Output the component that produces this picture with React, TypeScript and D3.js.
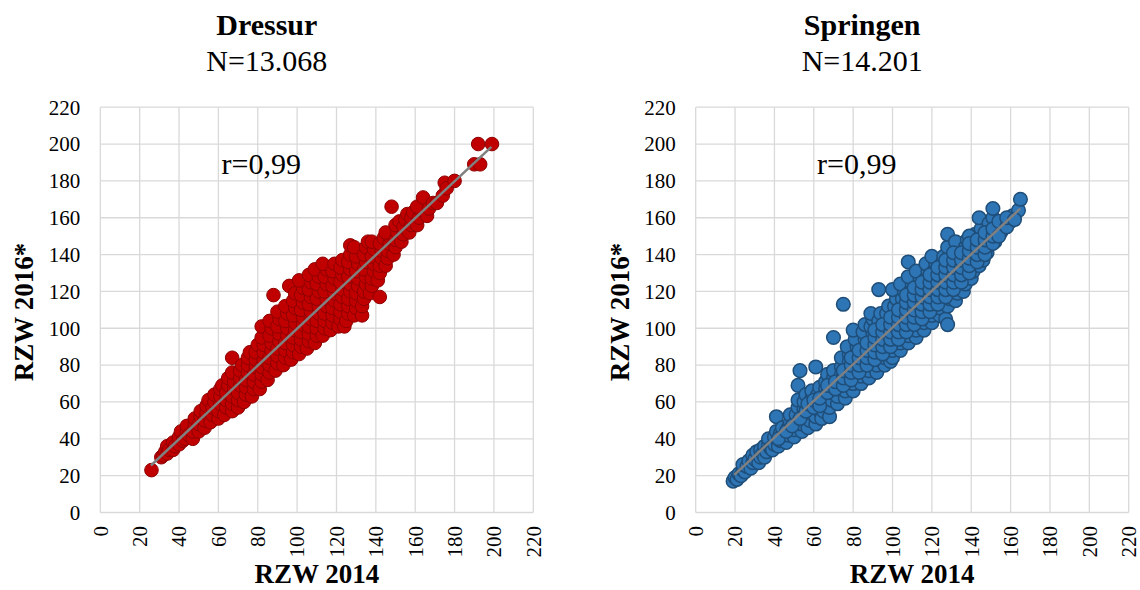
import React from "react";
import * as d3 from "d3";

// RZW 2014 vs. RZW 2016* per discipline (x = 2014, y = 2016*)
const dressurPoints: [number, number][] = [
  [26, 23],
  [31, 30], [32, 31], [33, 33],
  [34, 32], [34, 36], [35, 34],
  [37, 34], [37, 38], [38, 36],
  [40, 37], [40, 41], [41, 44], [42, 39],
  [43, 40], [44, 44], [44, 47], [45, 42],
  [47, 40], [47, 44], [48, 48], [48, 51],
  [50, 44], [50, 48], [51, 52], [51, 55],
  [53, 46], [53, 50], [54, 54], [54, 58], [55, 61],
  [56, 49], [57, 53], [57, 57], [58, 60], [58, 64],
  [60, 51], [60, 55], [61, 59], [61, 63], [61, 67], [62, 69],
  [63, 53], [64, 57], [64, 61], [64, 65], [65, 69], [65, 73],
  [67, 55], [67, 59], [67, 63], [68, 67], [68, 71], [67, 76], [67, 84],
  [70, 57], [70, 61], [70, 65], [71, 69], [71, 73], [71, 77], [72, 80],
  [73, 60], [74, 64], [74, 68], [74, 72], [75, 76], [75, 80], [75, 84], [76, 87],
  [77, 63], [78, 67], [78, 71], [78, 75], [79, 79], [79, 83], [79, 87], [80, 91],
  [81, 67], [82, 71], [82, 75], [82, 79], [83, 83], [83, 87], [83, 91], [82, 95], [82, 101],
  [85, 72], [86, 76], [86, 80], [86, 84], [87, 88], [87, 92], [86, 96], [87, 100], [86, 104],
  [88, 118],
  [89, 77], [90, 81], [90, 85], [90, 89], [91, 93], [91, 97], [90, 101], [91, 105], [90, 109],
  [93, 80], [94, 84], [94, 88], [94, 92], [95, 96], [95, 100], [94, 104], [95, 108], [94, 112], [96, 123],
  [97, 83], [98, 87], [98, 91], [98, 95], [99, 99], [99, 103], [98, 107], [99, 111], [98, 115], [99, 119],
  [101, 86], [102, 90], [102, 94], [102, 98], [103, 102], [103, 106], [102, 110], [103, 114], [102, 118], [103, 122], [101, 126],
  [105, 89], [106, 93], [106, 97], [106, 101], [107, 105], [107, 109], [106, 113], [107, 117], [106, 121], [107, 125], [106, 129],
  [109, 92], [110, 96], [110, 100], [110, 104], [111, 108], [111, 112], [110, 116], [111, 120], [110, 124], [111, 128], [109, 132],
  [113, 96], [114, 100], [114, 104], [114, 108], [115, 112], [115, 116], [114, 120], [115, 124], [114, 128], [115, 132], [113, 135],
  [117, 99], [118, 103], [118, 107], [118, 111], [119, 115], [119, 119], [118, 123], [119, 127], [118, 131], [119, 135],
  [121, 101], [122, 105], [122, 109], [122, 113], [123, 117], [123, 121], [122, 125], [123, 129], [122, 133], [123, 137], [124, 101],
  [125, 104], [126, 108], [126, 112], [126, 116], [127, 120], [127, 124], [126, 128], [127, 132], [126, 136], [127, 140], [127, 145],
  [129, 107], [130, 111], [130, 115], [130, 119], [131, 123], [131, 127], [130, 131], [131, 135], [130, 139], [129, 144], [133, 107],
  [133, 112], [134, 116], [134, 120], [135, 124], [135, 128], [134, 132], [135, 136], [134, 140], [135, 144], [136, 147],
  [137, 119], [138, 123], [138, 127], [139, 131], [139, 135], [138, 139], [139, 143], [138, 147], [142, 117],
  [141, 126], [142, 130], [142, 134], [143, 138], [143, 142], [142, 146], [144, 149],
  [145, 134], [146, 138], [146, 142], [147, 146], [147, 150], [145, 152], [148, 166],
  [149, 140], [150, 144], [150, 148], [151, 152], [150, 156], [152, 158],
  [153, 147], [154, 151], [154, 155], [155, 159], [156, 162],
  [157, 152], [158, 156], [158, 160], [159, 163],
  [161, 156], [162, 160], [163, 164], [161, 166], [164, 171],
  [166, 161], [167, 165], [169, 168], [171, 168],
  [174, 172], [175, 179], [176, 176], [180, 180],
  [190, 189], [193, 189], [192, 200], [199, 200],
];

const springenPoints: [number, number][] = [
  [19, 17], [20, 19], [21, 18], [22, 21], [23, 20],
  [24, 23], [25, 22], [24, 26], [26, 25], [27, 28],
  [28, 24], [29, 27], [29, 31], [30, 29], [31, 33],
  [32, 27], [33, 30], [33, 34], [34, 32], [35, 36],
  [35, 30], [36, 33], [37, 37], [37, 40], [38, 35],
  [39, 34], [40, 37], [40, 41], [41, 44], [41, 52],
  [42, 36], [43, 39], [43, 43], [44, 46], [45, 41],
  [46, 38], [47, 42], [47, 46], [48, 49], [48, 53],
  [50, 41], [50, 45], [51, 49], [51, 53], [52, 57], [52, 61], [52, 69], [53, 77],
  [54, 44], [54, 48], [55, 52], [55, 56], [55, 60], [56, 64],
  [57, 46], [58, 50], [58, 54], [58, 58], [59, 62], [59, 66],
  [61, 48], [61, 52], [62, 56], [62, 60], [62, 64], [63, 68], [61, 79],
  [64, 51], [65, 55], [65, 59], [66, 63], [66, 67], [66, 71], [67, 75],
  [68, 52], [68, 57], [69, 61], [69, 65], [70, 69], [70, 73], [70, 77], [70, 95],
  [72, 59], [72, 63], [73, 67], [73, 71], [74, 75], [74, 79], [74, 84], [75, 113],
  [76, 62], [76, 66], [77, 70], [77, 74], [78, 78], [78, 82], [78, 86], [77, 90],
  [80, 66], [80, 70], [81, 74], [81, 78], [82, 82], [82, 86], [82, 90], [81, 94], [80, 99],
  [84, 70], [84, 74], [85, 78], [85, 82], [86, 86], [86, 90], [86, 94], [85, 98], [86, 102],
  [88, 73], [88, 77], [89, 81], [89, 85], [90, 89], [90, 93], [90, 97], [89, 101], [90, 105], [89, 108],
  [92, 76], [92, 80], [93, 84], [93, 88], [94, 92], [94, 96], [94, 100], [93, 104], [94, 108], [93, 121],
  [96, 80], [96, 84], [97, 88], [97, 92], [98, 96], [98, 100], [98, 104], [97, 108], [98, 112], [99, 82],
  [100, 84], [100, 88], [101, 92], [101, 96], [102, 100], [102, 104], [102, 108], [101, 112], [102, 116], [100, 121],
  [104, 88], [104, 92], [105, 96], [105, 100], [106, 104], [106, 108], [106, 112], [105, 116], [106, 120], [104, 124],
  [108, 92], [108, 96], [109, 100], [109, 104], [110, 108], [110, 112], [110, 116], [109, 120], [110, 124], [108, 128], [108, 136],
  [112, 95], [112, 99], [113, 103], [113, 107], [114, 111], [114, 115], [114, 119], [113, 123], [114, 127], [112, 131],
  [116, 99], [116, 103], [117, 107], [117, 111], [118, 115], [118, 119], [118, 123], [117, 127], [118, 131], [117, 135],
  [120, 103], [120, 107], [121, 111], [121, 115], [122, 119], [122, 123], [122, 127], [121, 131], [122, 135], [120, 139],
  [124, 107], [124, 111], [125, 115], [125, 119], [126, 123], [126, 127], [126, 131], [125, 135], [126, 139], [127, 105], [128, 102],
  [128, 112], [129, 116], [129, 120], [130, 124], [130, 128], [130, 132], [129, 136], [130, 140], [128, 144], [128, 151],
  [132, 115], [133, 119], [133, 123], [134, 127], [134, 131], [134, 135], [133, 139], [134, 143], [132, 147],
  [136, 120], [137, 124], [137, 128], [138, 132], [138, 136], [138, 140], [137, 144], [138, 148],
  [140, 127], [141, 131], [141, 135], [142, 139], [142, 143], [141, 147], [142, 151], [139, 150],
  [144, 134], [145, 138], [145, 142], [146, 146], [146, 150], [145, 154], [144, 160], [146, 137],
  [148, 141], [149, 145], [149, 149], [150, 153], [149, 157],
  [152, 147], [153, 151], [153, 155], [151, 160], [151, 165],
  [155, 152], [156, 155], [157, 158], [156, 154],
  [160, 158], [161, 161], [164, 164], [165, 170],
  // inner part of the cloud
  [42, 40], [46, 44], [49, 47], [53, 51], [56, 55], [57, 59], [60, 57], [60, 61],
  [63, 58], [63, 62], [67, 65], [67, 69], [71, 67], [71, 71], [75, 69], [75, 73], [75, 77],
  [79, 72], [79, 76], [79, 80], [79, 84], [83, 76], [83, 80], [83, 84], [83, 88],
  [87, 80], [87, 84], [87, 88], [87, 92], [91, 83], [91, 87], [91, 91], [91, 95], [91, 99],
  [95, 86], [95, 90], [95, 94], [95, 98], [95, 102], [99, 90], [99, 94], [99, 98], [99, 102], [99, 106],
  [103, 94], [103, 98], [103, 102], [103, 106], [103, 110],
  [107, 98], [107, 102], [107, 106], [107, 110], [107, 114], [107, 118],
  [111, 102], [111, 106], [111, 110], [111, 114], [111, 118], [111, 122],
  [115, 105], [115, 109], [115, 113], [115, 117], [115, 121], [115, 125],
  [119, 109], [119, 113], [119, 117], [119, 121], [119, 125], [119, 129],
  [123, 113], [123, 117], [123, 121], [123, 125], [123, 129], [123, 133],
  [127, 117], [127, 121], [127, 125], [127, 129], [127, 133], [127, 137],
  [131, 121], [131, 125], [131, 129], [131, 133], [131, 137], [131, 141],
  [135, 125], [135, 129], [135, 133], [135, 137], [135, 141],
  [139, 130], [139, 134], [139, 138], [139, 142], [139, 146],
  [143, 136], [143, 140], [143, 144], [143, 148],
  [147, 140], [147, 144], [147, 148], [147, 152],
  [151, 146], [151, 150], [151, 154], [154, 150], [154, 158], [158, 155], [158, 160], [162, 159],
];

// Linear trend lines: x range plus slope and intercept
const dressurTrend = { x0: 25.7, x1: 198.7, slope: 1.0, intercept: -0.2 };
const springenTrend = { x0: 19.6, x1: 164.9, slope: 0.995, intercept: 0.9 };

const axisTicks = [0, 20, 40, 60, 80, 100, 120, 140, 160, 180, 200, 220];

const panels = [
  {
    title: "Dressur",
    count: "N=13.068",
    corr: "r=0,99",
    points: dressurPoints,
    trend: dressurTrend,
    fill: "#C00000",
    stroke: "#8E0000",
    strokeWidth: 1,
    left: 100.3,
  },
  {
    title: "Springen",
    count: "N=14.201",
    corr: "r=0,99",
    points: springenPoints,
    trend: springenTrend,
    fill: "#2E75B6",
    stroke: "#1F4E79",
    strokeWidth: 1.5,
    left: 695.7,
  },
];

const serif = { fontFamily: "Liberation Serif" };
const PLOT_W = 433;
const PLOT_TOP = 107.2;
const PLOT_BOTTOM = 512.5;
const GRID = "#D9D9D9";

function Panel({ p }: { p: (typeof panels)[number] }) {
  const x = d3.scaleLinear().domain([0, 220]).range([p.left, p.left + PLOT_W]);
  const y = d3.scaleLinear().domain([0, 220]).range([PLOT_BOTTOM, PLOT_TOP]);
  const line = d3
    .line<number>()
    .x((v) => x(v))
    .y((v) => y(p.trend.slope * v + p.trend.intercept));
  const titleX = p.left + 166.5;
  const midX = p.left + PLOT_W / 2;

  return (
    <g>
      <text x={titleX} y={35} textAnchor="middle" fontSize={30} fontWeight="bold" style={serif}>
        {p.title}
      </text>
      <text x={titleX} y={70.5} textAnchor="middle" fontSize={30} style={serif}>
        {p.count}
      </text>

      {/* grid */}
      {axisTicks.map((t) => (
        <line key={"gx" + t} x1={x(t)} x2={x(t)} y1={PLOT_TOP} y2={PLOT_BOTTOM} stroke={GRID} strokeWidth={1.3} />
      ))}
      {axisTicks.map((t) => (
        <line key={"gy" + t} x1={p.left} x2={p.left + PLOT_W} y1={y(t)} y2={y(t)} stroke={GRID} strokeWidth={1.3} />
      ))}

      {/* y tick labels */}
      {axisTicks.map((t) => (
        <text key={"ty" + t} x={p.left - 20} y={y(t)} dy="0.35em" textAnchor="end" fontSize={21} style={serif}>
          {t}
        </text>
      ))}
      {/* x tick labels, rotated */}
      {axisTicks.map((t) => (
        <text
          key={"tx" + t}
          transform={`translate(${x(t)},526) rotate(-90)`}
          dy="0.35em"
          textAnchor="end"
          fontSize={21}
          style={serif}
        >
          {t}
        </text>
      ))}

      <text x={p.left + 161} y={174} textAnchor="middle" fontSize={30} style={serif}>
        {p.corr}
      </text>

      {/* points */}
      {p.points.map(([a, b], i) => (
        <circle key={i} cx={x(a)} cy={y(b)} r={6.8} fill={p.fill} stroke={p.stroke} strokeWidth={p.strokeWidth} />
      ))}

      <path d={line([p.trend.x0, p.trend.x1]) || ""} stroke="#808080" strokeWidth={2.5} fill="none" />

      <text x={midX} y={583} textAnchor="middle" fontSize={27} fontWeight="bold" style={serif}>
        RZW 2014
      </text>
      <text
        transform={`translate(${p.left - 67},312) rotate(-90)`}
        textAnchor="middle"
        fontSize={27}
        fontWeight="bold"
        style={serif}
      >
        RZW 2016*
      </text>
    </g>
  );
}

export default function App() {
  return (
    <svg width={1140} height={590} style={{ display: "block", position: "absolute", left: 0, top: 0, background: "#fff" }}>
      <rect width={1140} height={590} fill="#fff" />
      {panels.map((p) => (
        <Panel key={p.title} p={p} />
      ))}
    </svg>
  );
}
